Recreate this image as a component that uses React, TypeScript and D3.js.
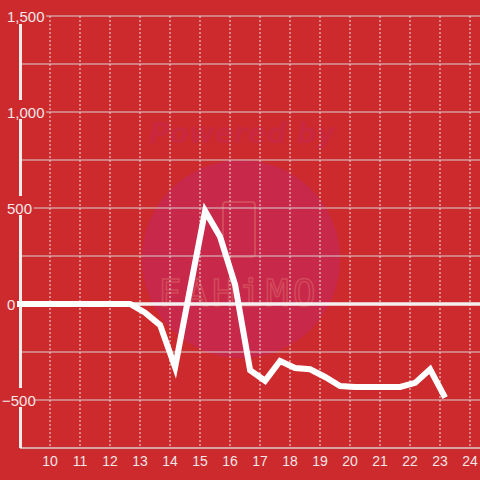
import React from "react";
import * as d3 from "d3";

const times = [8.67, 9.17, 9.67, 10.17, 10.67, 11.17, 11.67, 12.17, 12.67, 13.17, 13.67, 14.17, 14.67, 15.17, 15.67, 16.17, 16.67, 17.17, 17.67, 18.17, 18.67, 19.17, 19.67, 20.17, 20.67, 21.17, 21.67, 22.17, 22.67, 23.17];
const values = [0, 0, 0, 0, 0, 0, 0, 0, 0, -45, -110, -330, 80, 485, 350, 100, -345, -400, -297, -333, -340, -380, -427, -432, -432, -432, -432, -411, -340, -488];
const xTicks = [10, 11, 12, 13, 14, 15, 16, 17, 18, 19, 20, 21, 22, 23, 24];
const yGrid = [1500, 1250, 1000, 750, 500, 250, 0, -250, -500];
const yLabels = [1500, 1000, 500, 0, -500];

const W = 480, H = 480;
const BG = "#cd2a2e";

export default function App() {
  const x = d3.scaleLinear().domain([9, 24]).range([20, 470]);
  const y = d3.scaleLinear().domain([-750, 1500]).range([448, 16]);
  const fmt = d3.format(",");
  const line = d3.line<number>().x((_, i) => x(times[i])).y((v) => y(v));
  const pathD = line(values) || "";

  return (
    <div style={{ position: "fixed", left: 0, top: 0, width: W, height: H }}>
      <svg width={W} height={H} style={{ display: "block" }} fontFamily="'Liberation Sans', Arial, sans-serif">
        <defs>
          <clipPath id="plot">
            <rect x={17} y={0} width={W - 17} height={H} />
          </clipPath>
        </defs>
        <rect x={0} y={0} width={W} height={H} fill={BG} />
        {/* watermark */}
        <text x={242} y={143} textAnchor="middle" fontSize={28} fontWeight="bold" fontStyle="italic" fill="#c9283e" fontFamily="'DejaVu Sans', sans-serif">Powered by</text>
        <circle cx={241} cy={259} r={99} fill="#c8284a" />
        <g fill="none" stroke="#d24a5a" strokeWidth={2}>
          <rect x={223} y={202} width={32} height={55} rx={3} />
          <text x={239} y={306} textAnchor="middle" fontSize={38} letterSpacing={4} fill="none" stroke="#d24a5a" strokeWidth={1.5} fontFamily="'DejaVu Sans Mono', monospace">FAHiMO</text>
        </g>
        {/* horizontal gridlines */}
        {yGrid.map((v) => (
          <line key={"h" + v} x1={20} x2={W} y1={y(v)} y2={y(v)} stroke="#d8d0d0" strokeWidth={1} />
        ))}
        {/* vertical dashed gridlines */}
        {xTicks.map((t) => (
          <line key={"v" + t} x1={x(t)} x2={x(t)} y1={y(1500)} y2={y(-750)} stroke="#e8e0e0" strokeWidth={1} strokeDasharray="2,2" />
        ))}
        {/* bottom axis */}
        <line x1={20} x2={W} y1={y(-750)} y2={y(-750)} stroke="#d8d0d0" strokeWidth={1.5} />
        {/* y axis */}
        <line x1={20.5} x2={20.5} y1={24} y2={y(-750)} stroke="#f0ecec" strokeWidth={3} />
        {/* zero line */}
        <line x1={17} x2={W} y1={y(0)} y2={y(0)} stroke="#f4f0f0" strokeWidth={3.5} />
        {/* y labels with background */}
        {yLabels.map((v) => {
          const label = fmt(v);
          const x0 = v < 0 ? 2 : 7;
          const w = label.length * 8.2 - (label.includes(",") ? 4 : 0) - (v < 0 ? 3 : 0);
          return (
            <g key={"yl" + v}>
              <rect x={x0 - 2} y={y(v) - 12} width={w + 4} height={19} fill={BG} />
              <text x={x0} y={y(v) + 6} fontSize={15} fill="#f2e6e6">{label}</text>
            </g>
          );
        })}
        {/* x labels */}
        {xTicks.map((t) => (
          <text key={"xl" + t} x={x(t)} y={466} textAnchor="middle" fontSize={14} fill="#f2e6e6">{t}</text>
        ))}
        {/* data line */}
        <path d={pathD} fill="none" stroke="#ffffff" strokeWidth={6} strokeLinejoin="miter" clipPath="url(#plot)" />
      </svg>
    </div>
  );
}
